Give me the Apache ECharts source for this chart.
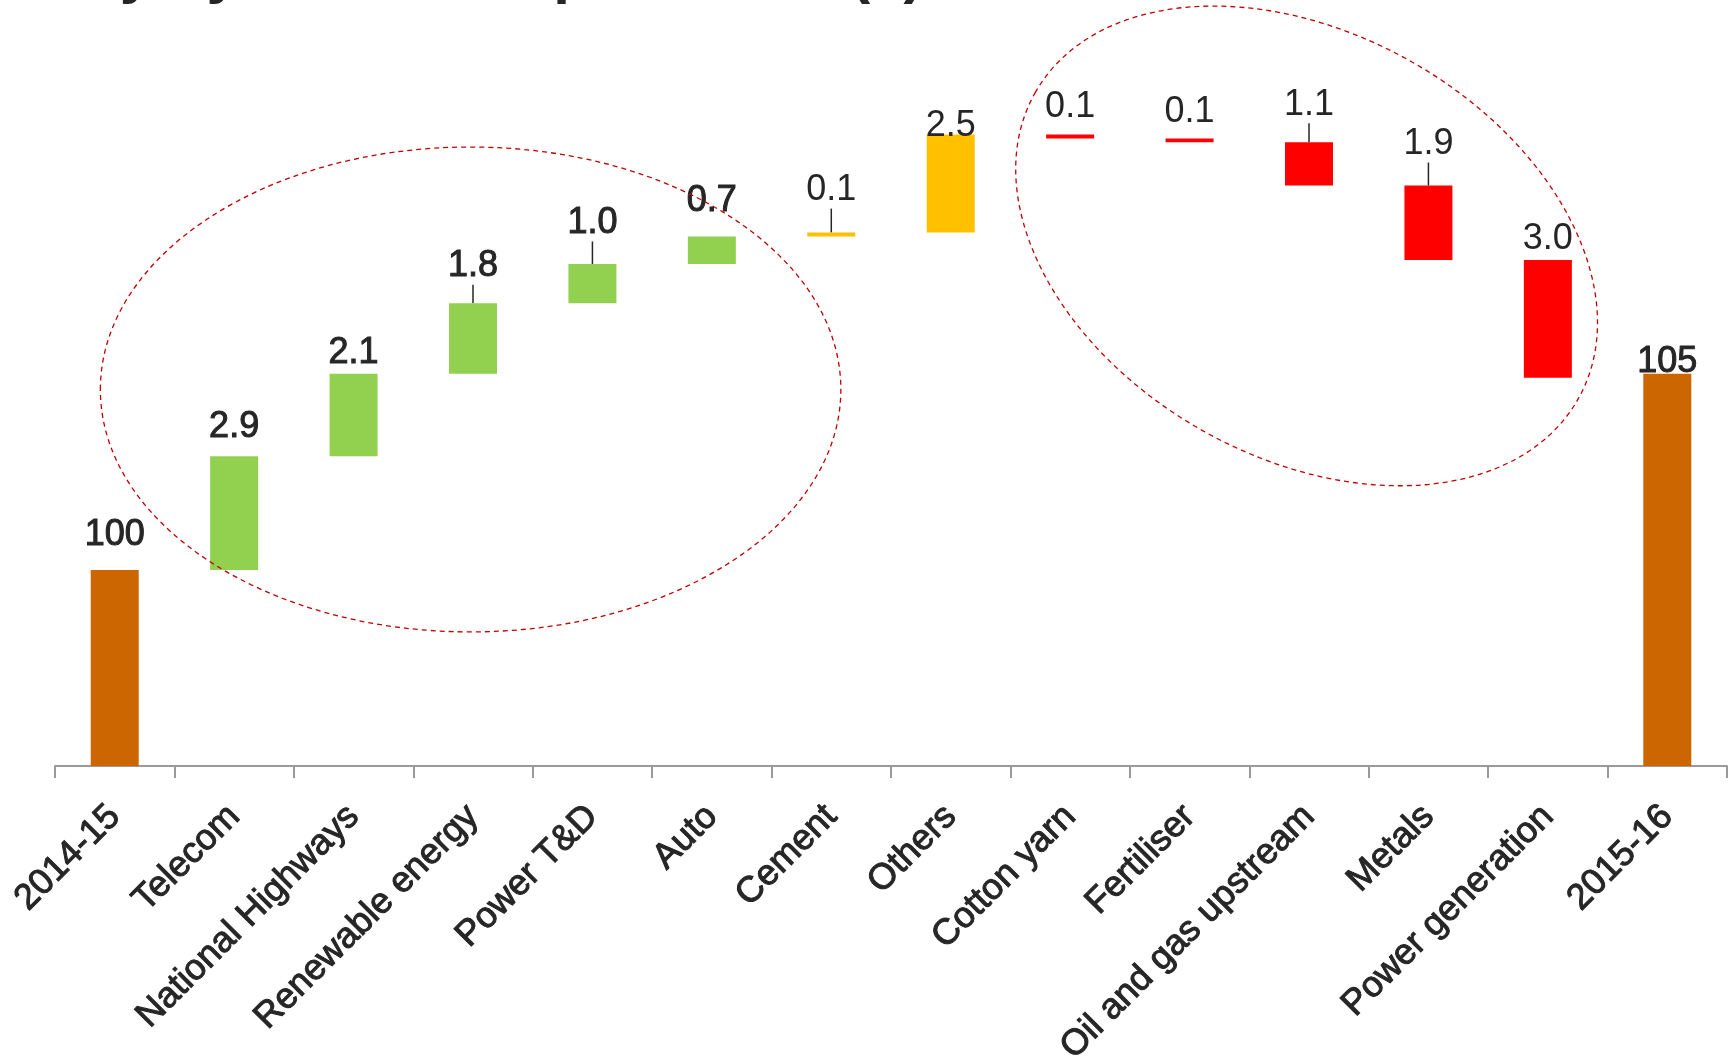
<!DOCTYPE html>
<html>
<head>
<meta charset="utf-8">
<script src="https://cdn.jsdelivr.net/npm/echarts@6/dist/echarts.min.js"></script>
<style>
html,body{margin:0;padding:0;background:#ffffff;}
#chart{width:1729px;height:1060px;}
</style>
</head>
<body>
<div id="chart"></div>
<script>
// ---- data ----
const titleText = 'Key by sectors capex share (x)';
const categories = ['2014-15', 'Telecom', 'National Highways', 'Renewable energy', 'Power T&D', 'Auto', 'Cement', 'Others', 'Cotton yarn', 'Fertiliser', 'Oil and gas upstream', 'Metals', 'Power generation', '2015-16'];
const changes = [100, 2.9, 2.1, 1.8, 1.0, 0.7, 0.1, 2.5, -0.1, -0.1, -1.1, -1.9, -3.0, 105];
const kinds = ['total', 'up', 'up', 'up', 'up', 'up', 'other', 'other', 'down', 'down', 'down', 'down', 'down', 'total'];

// ---- style ----
const FONT = "'Liberation Sans', Arial, Helvetica, sans-serif";
const TEXT = '#262626';
const kindColors = { total: '#CC6600', up: '#92D050', other: '#FFC000', down: '#FF0000' };
const labelGap = [22, 16, 8, 24, 28, 22, 29, -5, 14, 13, 24, 28, 8, -1];
const leaderLine = [0, 0, 0, 1, 1, 0, 1, 0, 0, 0, 1, 1, 0, 0];
// annotation rings: centre in (category index, value), radii in category widths, tilt in degrees (clockwise)
const rings = [
  { cat: 2.98, val: 104.6, rx: 3.10, ry: 2.03, tilt: 0 },
  { cat: 9.98, val: 108.26, rx: 2.61, ry: 1.775, tilt: 29.4 }
];

// ---- waterfall build ----
const base = [], size = [];
let running = 0;
changes.forEach((v, i) => {
  if (kinds[i] === 'total') { base.push(0); size.push(v); running = v; }
  else if (v >= 0) { base.push(Math.round(running * 10) / 10); size.push(v); running += v; }
  else { running += v; base.push(Math.round(running * 10) / 10); size.push(-v); }
});

const chart = echarts.init(document.getElementById('chart'), null, { renderer: 'canvas' });

chart.setOption({
  animation: false,
  backgroundColor: '#ffffff',
  title: {
    text: titleText,
    left: 38,
    top: -60,
    textStyle: { fontSize: 60, fontWeight: 'bold', color: TEXT, fontFamily: FONT }
  },
  grid: { left: 55, right: 2, top: 60, bottom: 294, containLabel: false, outerBoundsMode: 'none' },
  xAxis: {
    type: 'category',
    data: categories,
    boundaryGap: true,
    axisLine: { show: true, onZero: false, lineStyle: { color: '#9a9a9a', width: 2 } },
    axisTick: { show: true, alignWithLabel: false, interval: 0, length: 12, lineStyle: { color: '#9a9a9a', width: 2 } },
    axisLabel: {
      rotate: 45, interval: 0, margin: 45, fontSize: 36, color: TEXT, fontFamily: FONT,
      textBorderColor: TEXT, textBorderWidth: 1
    },
    splitLine: { show: false }
  },
  yAxis: { type: 'value', min: 95, max: 113, show: false, splitLine: { show: false } },
  series: [
    {
      type: 'bar', stack: 'w', barWidth: 48, silent: true,
      itemStyle: { color: 'rgba(0,0,0,0)' },
      data: base
    },
    {
      type: 'bar', stack: 'w', barWidth: 48,
      data: size.map((v, i) => ({
        value: v,
        itemStyle: { color: kindColors[kinds[i]] },
        label: {
          distance: labelGap[i] - 5,
          textBorderColor: TEXT,
          textBorderWidth: (kinds[i] === 'total' || kinds[i] === 'up') ? 1 : 0
        },
        labelLine: { show: !!leaderLine[i] }
      })),
      label: {
        show: true, position: 'top', fontSize: 36, color: TEXT, fontFamily: FONT,
        formatter: p => kinds[p.dataIndex] === 'total' ? String(changes[p.dataIndex]) : Math.abs(changes[p.dataIndex]).toFixed(1)
      },
      labelLine: { lineStyle: { color: TEXT, width: 1.5 } }
    }
  ]
});

// ---- dashed annotation rings, placed through the axes ----
const x0 = chart.convertToPixel({ xAxisIndex: 0 }, 0);
const x1 = chart.convertToPixel({ xAxisIndex: 0 }, 1);
const unit = x1 - x0;
chart.setOption({
  graphic: rings.map(r => ({
    type: 'ellipse',
    x: x0 + r.cat * unit,
    y: chart.convertToPixel({ yAxisIndex: 0 }, r.val),
    rotation: -r.tilt * Math.PI / 180,
    shape: { cx: 0, cy: 0, rx: r.rx * unit, ry: r.ry * unit },
    style: { fill: 'none', stroke: '#C00000', lineWidth: 1.3, lineDash: [5, 4] },
    silent: true,
    z: 100
  }))
});
</script>
</body>
</html>
